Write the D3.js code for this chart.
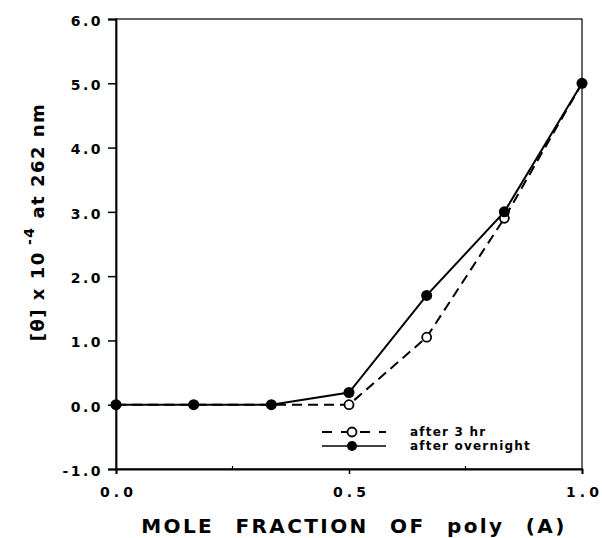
<!DOCTYPE html>
<html>
<head>
<meta charset="utf-8">
<script src="https://cdn.jsdelivr.net/npm/d3@7"></script>
<style>
  body { margin: 0; background: #fff; }
  text { font-family: "DejaVu Sans", "Liberation Sans", sans-serif; font-weight: bold; fill: #000; }
</style>
</head>
<body>
<svg width="602" height="538"></svg>
<script>
// data
const moleFraction = [0, 1/6, 1/3, 1/2, 2/3, 5/6, 1];
const after3hr = [0, 0, 0, 0, 1.05, 2.9, 5.0];
const afterOvernight = [0, 0, 0, 0.19, 1.7, 3.0, 5.0];
const yTicks = [-1, 0, 1, 2, 3, 4, 5, 6];
const xTicks = [0, 0.5, 1];
const seriesNames = ['after 3 hr', 'after overnight'];

const svg = d3.select('svg');
const x = d3.scaleLinear().domain([0, 1]).range([116, 582]);
const y = d3.scaleLinear().domain([-1, 6]).range([469, 19]);
const fmt = d => d.toFixed(1);

// frame: top and right borders thin
svg.append('rect')
  .attr('x', x(0)).attr('y', y(6))
  .attr('width', x(1) - x(0)).attr('height', y(-1) - y(6))
  .attr('fill', 'none').attr('stroke', '#000').attr('stroke-width', 1.2);

// y axis
const yAxis = svg.append('g')
  .attr('transform', `translate(${x(0)},0)`)
  .call(d3.axisLeft(y).tickValues(yTicks).tickSize(8).tickPadding(5).tickFormat(fmt));
yAxis.select('.domain').attr('stroke-width', 1.8);
yAxis.selectAll('.tick line').attr('stroke-width', 1.5);
yAxis.selectAll('text').style('font-size', '14px').style('letter-spacing', '2.5px')
  .attr('fill', '#000').attr('dy', '0.45em');

// x axis
const xAxis = svg.append('g')
  .attr('transform', `translate(0,${y(-1)})`)
  .call(d3.axisBottom(x).tickValues(xTicks).tickSize(5).tickPadding(13).tickFormat(fmt));
xAxis.select('.domain').attr('stroke-width', 1.8);
xAxis.selectAll('.tick line').attr('stroke-width', 1.5);
xAxis.selectAll('text').style('font-size', '14px').style('letter-spacing', '4px')
  .attr('fill', '#000').attr('dx', '2px');

// minor x ticks
svg.append('g').selectAll('line')
  .data([0.25, 0.75]).enter().append('line')
  .attr('x1', d => x(d)).attr('x2', d => x(d))
  .attr('y1', y(-1)).attr('y2', y(-1) - 3)
  .attr('stroke', '#000').attr('stroke-width', 1.2);

const line = d3.line().x((d, i) => x(moleFraction[i])).y(d => y(d));

// 3 hr series (dashed, open circles)
svg.append('path').datum(after3hr)
  .attr('d', line).attr('fill', 'none')
  .attr('stroke', '#000').attr('stroke-width', 2).attr('stroke-dasharray', '10,6');

// overnight series (solid, filled circles)
svg.append('path').datum(afterOvernight)
  .attr('d', line).attr('fill', 'none')
  .attr('stroke', '#000').attr('stroke-width', 2);

svg.append('g').selectAll('circle')
  .data(after3hr.map((v, i) => [moleFraction[i], v]).filter(d => d[0] > 0.4 && d[0] < 0.9))
  .enter().append('circle')
  .attr('cx', d => x(d[0])).attr('cy', d => y(d[1])).attr('r', 4.5)
  .attr('fill', '#fff').attr('stroke', '#000').attr('stroke-width', 1.8);

svg.append('g').selectAll('circle')
  .data(afterOvernight.map((v, i) => [moleFraction[i], v]))
  .enter().append('circle')
  .attr('cx', d => x(d[0])).attr('cy', d => y(d[1])).attr('r', 5.5)
  .attr('fill', '#000');

// legend
const legend = svg.append('g');
const legY = [432, 446];
legend.append('line')
  .attr('x1', 322).attr('x2', 386).attr('y1', legY[0]).attr('y2', legY[0])
  .attr('stroke', '#000').attr('stroke-width', 2).attr('stroke-dasharray', '10,9');
legend.append('circle').attr('cx', 352).attr('cy', legY[0]).attr('r', 4.5)
  .attr('fill', '#fff').attr('stroke', '#000').attr('stroke-width', 1.8);
legend.append('line')
  .attr('x1', 322).attr('x2', 386).attr('y1', legY[1]).attr('y2', legY[1])
  .attr('stroke', '#000').attr('stroke-width', 1.6);
legend.append('circle').attr('cx', 352).attr('cy', legY[1]).attr('r', 5).attr('fill', '#000');
legend.selectAll('text.leg')
  .data(seriesNames).enter().append('text')
  .attr('class', 'leg')
  .attr('x', 410).attr('y', (d, i) => legY[i] + 4)
  .style('font-size', '12px').style('letter-spacing', '1.2px')
  .text(d => d);

// axis titles
svg.append('text')
  .attr('x', 354).attr('y', 533)
  .attr('text-anchor', 'middle')
  .style('font-size', '20px').style('letter-spacing', '2.4px').style('word-spacing', '12px')
  .text('MOLE FRACTION OF poly (A)');

const yt = svg.append('text')
  .attr('transform', 'translate(44,222) rotate(-90)')
  .attr('text-anchor', 'middle')
  .style('font-size', '18px').style('letter-spacing', '1.5px');
yt.append('tspan').text('[θ] x 10');
yt.append('tspan').attr('dy', -10).style('font-size', '14px').text(' -4');
yt.append('tspan').attr('dy', 10).text(' at 262 nm');
</script>
</body>
</html>
